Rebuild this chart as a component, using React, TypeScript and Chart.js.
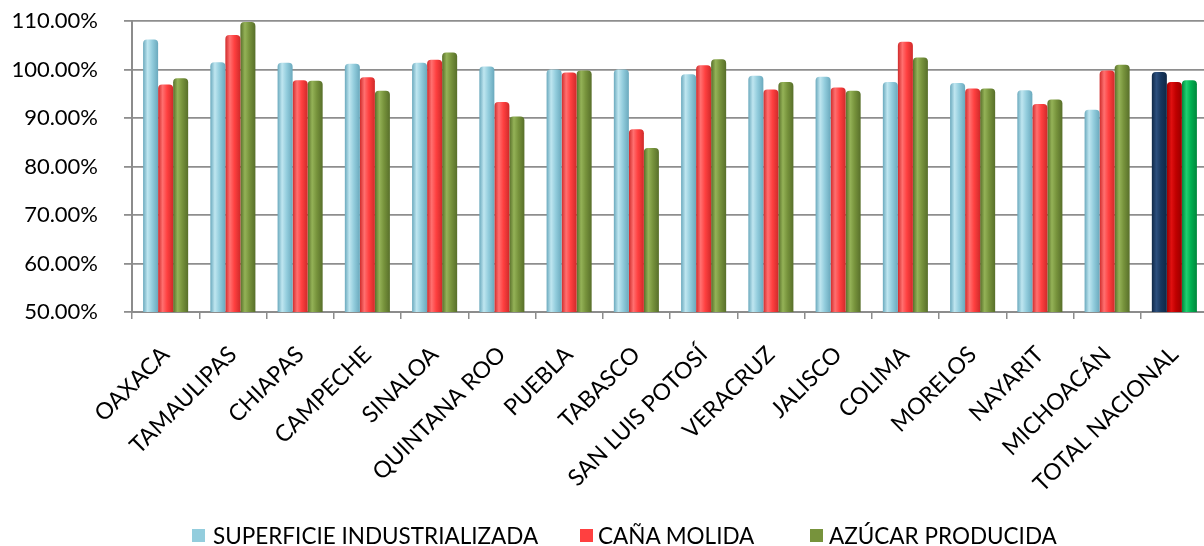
import React, { useEffect, useRef } from "react";
import { Chart, registerables } from "chart.js";

Chart.register(...registerables);

const categories = [
  "OAXACA",
  "TAMAULIPAS",
  "CHIAPAS",
  "CAMPECHE",
  "SINALOA",
  "QUINTANA ROO",
  "PUEBLA",
  "TABASCO",
  "SAN LUIS POTOSÍ",
  "VERACRUZ",
  "JALISCO",
  "COLIMA",
  "MORELOS",
  "NAYARIT",
  "MICHOACÁN",
  "TOTAL NACIONAL",
];

const superficieIndustrializada = [106.2, 101.5, 101.4, 101.2, 101.4, 100.6, 100.0, 100.0, 99.0, 98.7, 98.5, 97.4, 97.2, 95.7, 91.7, 99.5];
const canaMolida = [96.9, 107.1, 97.8, 98.4, 102.0, 93.3, 99.4, 87.7, 100.9, 95.9, 96.3, 105.7, 96.1, 92.9, 99.8, 97.4];
const azucarProducida = [98.2, 109.8, 97.7, 95.6, 103.5, 90.3, 99.8, 83.8, 102.1, 97.4, 95.6, 102.5, 96.1, 93.8, 101.0, 97.8];

const seriesNames = ["SUPERFICIE INDUSTRIALIZADA", "CAÑA MOLIDA", "AZÚCAR PRODUCIDA"];
const yTicks = [50, 60, 70, 80, 90, 100, 110];

const CAT_PCT = 0.67;

type Shade = { dark: string; light: string; base: string };
const palettes: Shade[] = [
  { dark: "#6aa9bd", light: "#bfe6f0", base: "#93cddd" },
  { dark: "#d02a2a", light: "#ff7070", base: "#ff4040" },
  { dark: "#586f2a", light: "#94b257", base: "#77933c" },
];
const totalPalettes: Shade[] = [
  { dark: "#0f2846", light: "#2c4f7e", base: "#17375e" },
  { dark: "#990000", light: "#e01010", base: "#c00000" },
  { dark: "#00873c", light: "#20d070", base: "#00b050" },
];

function cylinder(ctx: any) {
  const ds = ctx.datasetIndex ?? 0;
  const idx = ctx.dataIndex;
  const pal = idx === categories.length - 1 ? totalPalettes[ds] : palettes[ds];
  const chart = ctx.chart;
  const xs = chart.scales && chart.scales.x;
  if (!xs || idx === undefined || !isFinite(xs.left) || xs.right <= xs.left) return pal.base;
  const catW = (xs.right - xs.left) / categories.length;
  const groupW = catW * CAT_PCT;
  const barW = groupW / 3;
  const cx = xs.getPixelForValue(idx);
  const left = cx - groupW / 2 + ds * barW;
  const g = chart.ctx.createLinearGradient(left, 0, left + barW, 0);
  g.addColorStop(0, pal.dark);
  g.addColorStop(0.3, pal.light);
  g.addColorStop(0.6, pal.base);
  g.addColorStop(1, pal.dark);
  return g;
}

export default function App() {
  const ref = useRef<HTMLCanvasElement>(null);

  useEffect(() => {
    if (!ref.current) return;
    const chart = new Chart(ref.current, {
      type: "bar",
      data: {
        labels: categories,
        datasets: [superficieIndustrializada, canaMolida, azucarProducida].map((d, i) => ({
          label: seriesNames[i],
          data: d,
          backgroundColor: cylinder,
          borderWidth: 0,
          borderRadius: { topLeft: 4, topRight: 4, bottomLeft: 0, bottomRight: 0 },
          borderSkipped: false,
          categoryPercentage: CAT_PCT,
          barPercentage: 1.0,
        })),
      },
      options: {
        responsive: false,
        animation: false,
        layout: { padding: { top: 21, right: 2, left: 0, bottom: 0 } },
        plugins: {
          legend: { display: false },
          tooltip: { enabled: false },
        },
        scales: {
          x: {
            grid: {
              offset: true,
              drawOnChartArea: false,
              drawTicks: true,
              tickLength: 7,
              color: "#8c8c8c",
              lineWidth: 1.5,
            },
            border: { color: "#8c8c8c", width: 2 },
            ticks: {
              autoSkip: false,
              maxRotation: 45,
              minRotation: 45,
              color: "#000",
              padding: 22,
              font: { family: "Lato", size: 23 },
            },
            afterFit: (s: any) => {
              s.height = 234;
              s.paddingLeft = 0;
              s.paddingRight = 0;
            },
          },
          y: {
            min: 50,
            max: 110,
            afterBuildTicks: (s: any) => {
              s.ticks = yTicks.map((v) => ({ value: v }));
            },
            grid: {
              color: "#8e8e8e",
              lineWidth: 1.8,
              tickLength: 8,
            },
            border: { color: "#8c8c8c", width: 2 },
            ticks: {
              color: "#000",
              padding: 26,
              font: { family: "Lato", size: 22 },
              callback: (v: any) => Number(v).toFixed(2) + "%",
            },
            afterFit: (s: any) => {
              s.width = 132;
              s.paddingTop = 0;
              s.paddingBottom = 0;
            },
          },
        },
      },
    });
    return () => chart.destroy();
  }, []);

  const legendItems = [
    { box: 192, text: 213, color: "#93cddd" },
    { box: 580, text: 598, color: "#ff4040" },
    { box: 810, text: 829, color: "#77933c" },
  ];

  return (
    <div style={{ position: "absolute", left: 0, top: 0, width: 1204, height: 546, overflow: "hidden", background: "#fff" }}>
      <canvas ref={ref} width={1210} height={546} style={{ display: "block", width: 1210, height: 546 }} />
      {legendItems.map((it, i) => (
        <React.Fragment key={i}>
          <div style={{ position: "absolute", left: it.box, top: 529, width: 13, height: 13, background: it.color }} />
          <div
            style={{
              position: "absolute",
              left: it.text,
              top: 525,
              fontFamily: "Lato",
              fontSize: 22.5,
              lineHeight: "22px",
              color: "#000",
              whiteSpace: "nowrap",
            }}
          >
            {seriesNames[i]}
          </div>
        </React.Fragment>
      ))}
    </div>
  );
}
